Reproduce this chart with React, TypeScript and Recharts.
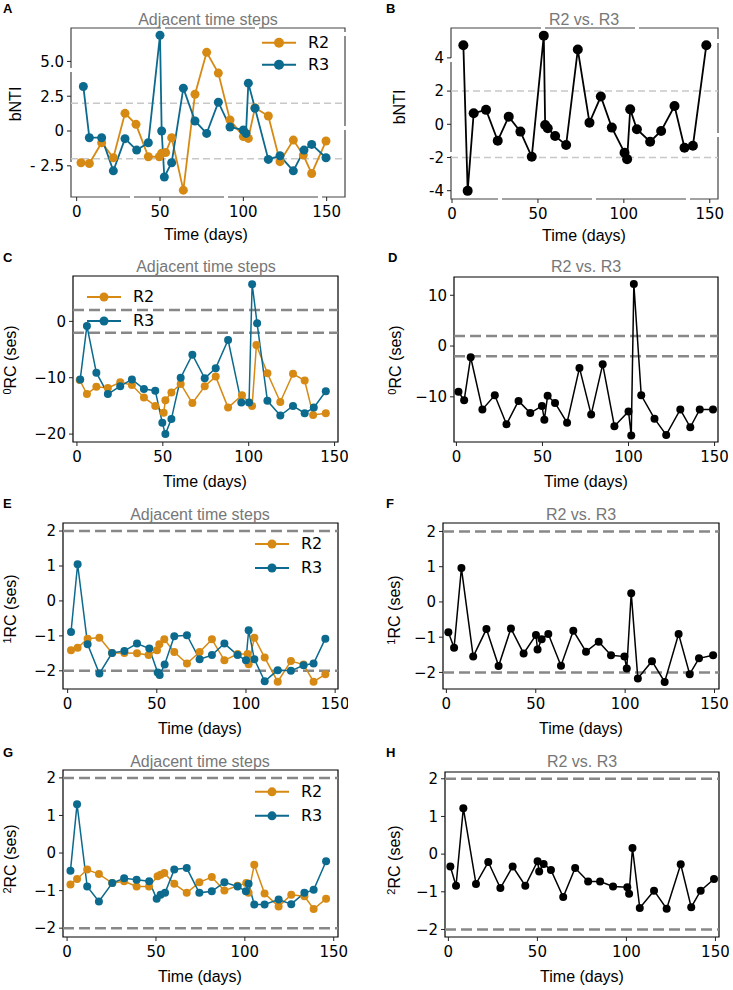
import { Legend, Line, LineChart, ReferenceArea, ReferenceLine, XAxis, YAxis } from "recharts";

const ORANGE = "#d68a14";
const BLUE = "#0b6a8d";
const BLACK = "#000000";

const X_TICKS = [0, 50, 100, 150];

// A: bNTI, adjacent time steps
const A_R2_T = [2.6, 7.6, 15, 22, 29, 35.6, 43, 49.6, 51, 53.4, 57, 64, 71, 78, 85, 92, 100, 103, 107, 115, 122, 130, 136, 141, 149.6];
const A_R2_V = [-2.28, -2.33, -0.84, -1.92, 1.27, 0.48, -1.85, -1.85, -1.6, -1.55, -0.48, -4.25, 2.64, 5.65, 4.16, 0.8, -0.4, -0.53, 1.68, 1.08, -2.2, -0.65, -1.73, -3.05, -0.72];
const A_R3_T = [4, 7.6, 15, 22, 29, 36, 43, 50, 51, 52.6, 57, 64, 71, 78, 85, 92, 100, 101.6, 103, 107, 115, 122, 130, 136.4, 141, 149.6];
const A_R3_V = [3.2, -0.48, -0.48, -2.86, -0.55, -1.37, -0.84, 6.88, 0, -3.3, -2.28, 3.08, 0.72, -0.17, 2.07, 0.29, 0.07, -0.17, 3.44, 1.63, -2.04, -1.78, -2.86, -1.37, -0.96, -1.92];

// B: bNTI, R2 vs R3
const B_T = [6.6, 9.1, 12.6, 19.8, 26.6, 33, 39.8, 46.4, 53.4, 54.2, 55.7, 60, 66.4, 73.2, 80, 86.6, 93, 100.4, 101.9, 103.7, 107.6, 115.3, 121.7, 129.5, 135.3, 140.2, 148];
const B_V = [4.76, -4.01, 0.67, 0.87, -0.99, 0.46, -0.44, -1.96, 5.34, -0.04, -0.24, -0.71, -1.25, 4.5, 0.1, 1.67, -0.2, -1.71, -2.1, 0.9, -0.3, -1.05, -0.4, 1.1, -1.41, -1.29, 4.76];

// C: 0RC, adjacent time steps
const C_R2_T = [1.6, 5.8, 11.3, 18, 25.2, 32, 39, 45.6, 50.5, 51.5, 55, 60.4, 67.2, 74.4, 80.8, 88, 96.1, 102, 104.5, 110.9, 118.4, 125.8, 132.6, 137.5, 144.9];
const C_R2_V = [-10.4, -12.9, -11.6, -11.8, -10.8, -11.3, -13.5, -15.0, -16.2, -14.0, -12.6, -11.1, -14.5, -11.5, -9.8, -15.3, -13.1, -15.0, -4.2, -9.2, -14.3, -9.3, -10.5, -16.6, -16.3];
const C_R3_T = [1.9, 5.8, 11.3, 18, 25.2, 32, 39, 45.6, 49.7, 51.5, 55, 60.4, 67.2, 74.4, 80.8, 88, 95.7, 100.2, 102, 104.9, 110.9, 118.4, 125.8, 132.6, 137.9, 144.9];
const C_R3_V = [-10.3, -0.8, -9.1, -12.9, -11.5, -10.3, -12.0, -12.3, -18.0, -20.0, -17.3, -10.0, -5.9, -10.1, -8.3, -3.3, -14.4, -14.4, 6.6, -0.35, -14.1, -16.7, -15.0, -16.3, -15.3, -12.4];

// D: 0RC, R2 vs R3
const D_T = [1.2, 4.5, 8.3, 15.1, 22.3, 29.1, 36.1, 42.9, 49.7, 51.1, 53, 57.3, 64.3, 71.5, 78.3, 85, 91.8, 100, 101.6, 103.1, 107.4, 115.1, 121.9, 130.1, 135.9, 141.4, 149.1];
const D_V = [-9.0, -10.7, -2.2, -12.5, -9.7, -15.4, -10.8, -13.2, -11.8, -14.5, -9.8, -11.2, -15.1, -4.3, -13.5, -3.6, -15.8, -12.9, -17.6, 12.2, -9.7, -14.3, -17.5, -12.5, -16.0, -12.5, -12.5];

// E: 1RC, adjacent time steps
const E_R2_T = [1.9, 5.6, 11.2, 17.8, 24.9, 31.8, 38.9, 45.4, 50.1, 51.4, 54.2, 59.8, 66.9, 74, 80.9, 87.9, 95.3, 100.9, 101.5, 104.7, 110.5, 117.8, 125.2, 132.3, 137.9, 144.5];
const E_R2_V = [-1.41, -1.34, -1.08, -1.05, -1.49, -1.49, -1.5, -1.55, -1.41, -1.24, -1.1, -1.46, -1.79, -1.46, -1.1, -1.7, -1.52, -1.52, -1.81, -1.05, -1.62, -2.31, -1.72, -1.82, -2.31, -2.1];
const E_R3_T = [1.9, 5.6, 11.2, 17.8, 24.9, 31.8, 38.9, 45.8, 50.5, 51.6, 54.4, 59.8, 66.9, 74, 80.9, 87.9, 95.3, 100, 101.5, 104.7, 110.5, 117.8, 125.2, 132.3, 137.9, 144.5];
const E_R3_V = [-0.89, 1.05, -1.24, -2.08, -1.49, -1.43, -1.22, -1.36, -2.05, -2.12, -1.82, -1.01, -0.98, -1.67, -1.55, -1.22, -1.55, -1.7, -0.84, -1.67, -2.3, -1.98, -2.0, -1.84, -1.79, -1.08];

// F: 1RC, R2 vs R3
const F_T = [1.1, 4.3, 8.4, 15, 22.4, 29.2, 36.1, 43.2, 50.1, 51, 53.3, 57, 64.1, 71, 78.1, 85.2, 92.1, 99.6, 100.9, 103.4, 107.1, 115, 122.1, 129.9, 136.1, 141.3, 149.2];
const F_V = [-0.86, -1.3, 0.96, -1.55, -0.77, -1.82, -0.75, -1.46, -0.94, -1.35, -1.06, -0.91, -1.81, -0.82, -1.41, -1.13, -1.51, -1.55, -1.89, 0.25, -2.17, -1.68, -2.27, -0.91, -2.05, -1.6, -1.51];

// G: 2RC, adjacent time steps
const G_R2_T = [1.9, 5.6, 11.3, 17.9, 25.4, 32.1, 39.1, 46.1, 50.9, 52.6, 54.7, 60.3, 67.3, 74.4, 81.4, 88.5, 95.9, 100.8, 102.1, 105.3, 111.1, 119, 126.1, 133.5, 138.7, 145.7];
const G_R2_V = [-0.84, -0.69, -0.44, -0.56, -0.8, -0.75, -0.89, -0.89, -0.62, -0.58, -0.53, -0.82, -1.06, -0.78, -0.64, -1.0, -0.87, -0.8, -1.06, -0.31, -1.08, -1.42, -1.11, -1.15, -1.49, -1.22];
const G_R3_T = [1.9, 5.6, 11.3, 17.9, 25.4, 32.1, 39.1, 46.2, 50.4, 52.6, 55.1, 60.3, 67.3, 74.4, 81.4, 88.5, 95.9, 100.6, 102.1, 105.3, 111.1, 119, 126.1, 133.5, 138.7, 145.7];
const G_R3_V = [-0.47, 1.3, -0.89, -1.29, -0.8, -0.67, -0.71, -0.75, -1.22, -1.11, -1.06, -0.44, -0.4, -1.06, -1.02, -0.78, -0.89, -1.02, -0.82, -1.37, -1.37, -1.24, -1.36, -1.06, -0.98, -0.22];

// H: 2RC, R2 vs R3
const H_T = [1.1, 4.3, 8.4, 15.5, 22.4, 29.2, 36.1, 43.2, 50.1, 51, 53.5, 57.6, 64.5, 71.2, 78.5, 85.2, 92.5, 100.5, 101.5, 103.4, 107.5, 115.5, 122.6, 130.5, 136.4, 141.7, 149.2];
const H_V = [-0.33, -0.84, 1.22, -0.79, -0.21, -0.9, -0.33, -0.84, -0.19, -0.46, -0.26, -0.42, -1.14, -0.37, -0.73, -0.73, -0.86, -0.88, -1.05, 0.16, -1.43, -0.97, -1.45, -0.27, -1.41, -0.97, -0.66];

const YW = 70;
const XH = 50;
const MT = 10;
const MR = 10;

const toPoints = (t: number[], v: number[]) => t.map((x, i) => ({ t: x, v: v[i] }));

const fmtGg = (v: number) => (v === 0 ? "0" : v < 0 ? `- ${(-v).toFixed(1)}` : v.toFixed(1));
const fmtPlain = (v: number) => String(v);
const fmtMinus = (v: number) => (v < 0 ? `\u2212${-v}` : String(v));

type Series = { name: string; color: string; t: number[]; v: number[] };

type PanelProps = {
  frame: [number, number, number, number];
  xDomain: [number, number];
  yDomain: [number, number];
  yTicks: number[];
  yFmt: (v: number) => string;
  series: Series[];
  r: number;
  lw: number;
  gg?: boolean;
  legend?: { x: number; y: number; rowH: number; r: number };
};

function legendContent(rowH: number, r: number) {
  return (props: any) => (
    <div>
      {(props.payload || []).map((e: any) => (
        <div key={e.value} style={{ display: "flex", alignItems: "center", height: rowH }}>
          <svg width={34} height={rowH}>
            <line x1={0} x2={34} y1={rowH / 2} y2={rowH / 2} stroke={e.color} strokeWidth={2} />
            <circle cx={17} cy={rowH / 2} r={r} fill={e.color} />
          </svg>
          <span style={{ marginLeft: 12, fontSize: 16, fontFamily: "DejaVu Sans", color: "#000", lineHeight: `${rowH}px` }}>
            {e.value}
          </span>
        </div>
      ))}
    </div>
  );
}

function Panel(p: PanelProps) {
  const [x0, y0, x1, y1] = p.frame;
  const left = x0 - YW;
  const top = y0 - MT;
  const width = x1 - x0 + YW + MR;
  const height = y1 - y0 + MT + XH;
  const refColor = p.gg ? "#c8c8c8" : "#888888";
  const refWidth = p.gg ? 1.5 : 2.5;
  const refDash = p.gg ? "7 4" : "11 5";
  const tickStyle = { fontSize: 15, fill: "#000", fontFamily: "DejaVu Sans" };

  return (
    <div style={{ position: "absolute", left, top }}>
      <LineChart width={width} height={height} margin={{ top: MT, right: MR, bottom: 0, left: 0 }}>
        <ReferenceArea
          x1={p.xDomain[0]}
          x2={p.xDomain[1]}
          y1={p.yDomain[0]}
          y2={p.yDomain[1]}
          fill="none"
          fillOpacity={0}
          stroke={p.gg ? "#444" : "#000"}
          strokeWidth={1.2}
          strokeDasharray={p.gg ? "90 4" : undefined}
          ifOverflow="visible"
        />
        <ReferenceLine y={2} stroke={refColor} strokeWidth={refWidth} strokeDasharray={refDash} />
        <ReferenceLine y={-2} stroke={refColor} strokeWidth={refWidth} strokeDasharray={refDash} />
        <XAxis
          type="number"
          dataKey="t"
          domain={p.xDomain}
          ticks={X_TICKS}
          allowDataOverflow
          axisLine={false}
          tickLine={{ stroke: "#222" }}
          tickSize={4}
          tickMargin={5}
          height={XH}
          tick={tickStyle}
        />
        <YAxis
          type="number"
          domain={p.yDomain}
          ticks={p.yTicks}
          tickFormatter={p.yFmt}
          allowDataOverflow
          axisLine={false}
          tickLine={{ stroke: "#222" }}
          tickSize={4}
          tickMargin={3}
          width={YW}
          tick={tickStyle}
        />
        {p.series.map((s) => (
          <Line
            key={s.name}
            name={s.name}
            data={toPoints(s.t, s.v)}
            dataKey="v"
            type="linear"
            stroke={s.color}
            strokeWidth={p.lw}
            dot={{ r: p.r, fill: s.color, stroke: s.color, strokeWidth: 0 }}
            activeDot={false}
            isAnimationActive={false}
          />
        ))}
        {p.legend && (
          <Legend
            layout="vertical"
            align="center"
            verticalAlign="middle"
            wrapperStyle={{
              left: p.legend.x - left,
              top: p.legend.y - top,
              width: "auto",
              height: "auto",
            }}
            content={legendContent(p.legend.rowH, p.legend.r)}
          />
        )}
      </LineChart>
    </div>
  );
}

const LETTERS = [
  { s: "A", x: 3, y: 13 },
  { s: "B", x: 386, y: 13 },
  { s: "C", x: 3, y: 262 },
  { s: "D", x: 388, y: 262 },
  { s: "E", x: 3, y: 508 },
  { s: "F", x: 386, y: 508 },
  { s: "G", x: 3, y: 757 },
  { s: "H", x: 386, y: 757 },
];

const TITLES = [
  { s: "Adjacent time steps", x: 208, y: 24.5 },
  { s: "R2 vs. R3", x: 584, y: 24.5 },
  { s: "Adjacent time steps", x: 206, y: 271.5 },
  { s: "R2 vs. R3", x: 586, y: 271.5 },
  { s: "Adjacent time steps", x: 200, y: 519.5 },
  { s: "R2 vs. R3", x: 581, y: 519.5 },
  { s: "Adjacent time steps", x: 200, y: 766.5 },
  { s: "R2 vs. R3", x: 582, y: 766.5 },
];

const XLABELS = [
  { x: 206, y: 240 },
  { x: 584, y: 241 },
  { x: 205, y: 487 },
  { x: 586, y: 487 },
  { x: 200, y: 734 },
  { x: 581, y: 734 },
  { x: 200, y: 982 },
  { x: 582, y: 982 },
];

const YLABELS = [
  { sup: "", s: "bNTI", x: 15, y: 104 },
  { sup: "", s: "bNTI", x: 399, y: 107 },
  { sup: "0", s: "RC (ses)", x: 16, y: 360 },
  { sup: "0", s: "RC (ses)", x: 401, y: 360 },
  { sup: "1", s: "RC (ses)", x: 16, y: 609 },
  { sup: "1", s: "RC (ses)", x: 400, y: 610 },
  { sup: "2", s: "RC (ses)", x: 16, y: 859 },
  { sup: "2", s: "RC (ses)", x: 400, y: 860 },
];

export default function App() {
  const two = (a: [number[], number[]], b: [number[], number[]]): Series[] => [
    { name: "R2", color: ORANGE, t: a[0], v: a[1] },
    { name: "R3", color: BLUE, t: b[0], v: b[1] },
  ];
  const one = (t: number[], v: number[]): Series[] => [{ name: "R2 vs. R3", color: BLACK, t, v }];

  return (
    <div style={{ position: "absolute", left: 0, top: 0, width: 733, height: 990, background: "#fff", fontFamily: "DejaVu Sans" }}>
      <Panel
        frame={[71, 28, 345, 197]}
        xDomain={[-3.4, 161]}
        yDomain={[-4.74, 7.4]}
        yTicks={[-2.5, 0, 2.5, 5]}
        yFmt={fmtGg}
        series={two([A_R2_T, A_R2_V], [A_R3_T, A_R3_V])}
        r={4.5}
        lw={1.8}
        gg
        legend={{ x: 262, y: 32, rowH: 21.6, r: 5 }}
      />
      <Panel
        frame={[451, 28, 718, 199]}
        xDomain={[-0.6, 154.8]}
        yDomain={[-4.5, 5.8]}
        yTicks={[-4, -2, 0, 2, 4]}
        yFmt={fmtPlain}
        series={one(B_T, B_V)}
        r={5}
        lw={1.8}
        gg
      />
      <Panel
        frame={[73, 276, 338, 442]}
        xDomain={[-2.3, 152]}
        yDomain={[-21.4, 8.05]}
        yTicks={[-20, -10, 0]}
        yFmt={fmtMinus}
        series={two([C_R2_T, C_R2_V], [C_R3_T, C_R3_V])}
        r={4}
        lw={1.5}
        legend={{ x: 87, y: 284.7, rowH: 24, r: 4.5 }}
      />
      <Panel
        frame={[454, 277, 718, 442]}
        xDomain={[-1.4, 152]}
        yDomain={[-18.9, 13.6]}
        yTicks={[-10, 0, 10]}
        yFmt={fmtMinus}
        series={one(D_T, D_V)}
        r={4}
        lw={1.5}
      />
      <Panel
        frame={[63, 523, 338, 689]}
        xDomain={[-2.6, 151.6]}
        yDomain={[-2.52, 2.23]}
        yTicks={[-2, -1, 0, 1, 2]}
        yFmt={fmtMinus}
        series={two([E_R2_T, E_R2_V], [E_R3_T, E_R3_V])}
        r={4}
        lw={1.5}
        legend={{ x: 255, y: 532.3, rowH: 24, r: 4.5 }}
      />
      <Panel
        frame={[443, 523, 719, 689]}
        xDomain={[-1.9, 152.5]}
        yDomain={[-2.47, 2.24]}
        yTicks={[-2, -1, 0, 1, 2]}
        yFmt={fmtMinus}
        series={one(F_T, F_V)}
        r={4}
        lw={1.5}
      />
      <Panel
        frame={[63, 770, 338, 937]}
        xDomain={[-2.3, 152.4]}
        yDomain={[-2.235, 2.21]}
        yTicks={[-2, -1, 0, 1, 2]}
        yFmt={fmtMinus}
        series={two([G_R2_T, G_R2_V], [G_R3_T, G_R3_V])}
        r={4}
        lw={1.5}
        legend={{ x: 255, y: 780.4, rowH: 23.7, r: 4.5 }}
      />
      <Panel
        frame={[445, 772, 719, 937]}
        xDomain={[-1.9, 152]}
        yDomain={[-2.2, 2.18]}
        yTicks={[-2, -1, 0, 1, 2]}
        yFmt={fmtMinus}
        series={one(H_T, H_V)}
        r={4}
        lw={1.5}
      />
      <svg
        width={733}
        height={990}
        style={{ position: "absolute", left: 0, top: 0, pointerEvents: "none" }}
      >
        {LETTERS.map((l) => (
          <text key={l.s} x={l.x} y={l.y} fontSize={13} fontWeight="bold" fontFamily="Liberation Sans" fill="#000">
            {l.s}
          </text>
        ))}
        {TITLES.map((t, i) => (
          <text key={i} x={t.x} y={t.y} fontSize={16} fontFamily="Liberation Sans" fill="#777" textAnchor="middle">
            {t.s}
          </text>
        ))}
        {XLABELS.map((t, i) => (
          <text key={i} x={t.x} y={t.y} fontSize={16} fontWeight="normal" fontFamily="Liberation Sans" fill="#000" textAnchor="middle">
            Time (days)
          </text>
        ))}
        {YLABELS.map((l, i) => (
          <text
            key={i}
            x={l.x}
            y={l.y}
            transform={`rotate(-90 ${l.x} ${l.y})`}
            fontSize={16}
            fontFamily="Liberation Sans"
            fill="#000"
            textAnchor="middle"
            dy="0.35em"
          >
            {l.sup && (
              <tspan fontSize={11} dy="-0.45em">
                {l.sup}
              </tspan>
            )}
            <tspan dy={l.sup ? "0.3em" : undefined}>{l.s}</tspan>
          </text>
        ))}
      </svg>
    </div>
  );
}
